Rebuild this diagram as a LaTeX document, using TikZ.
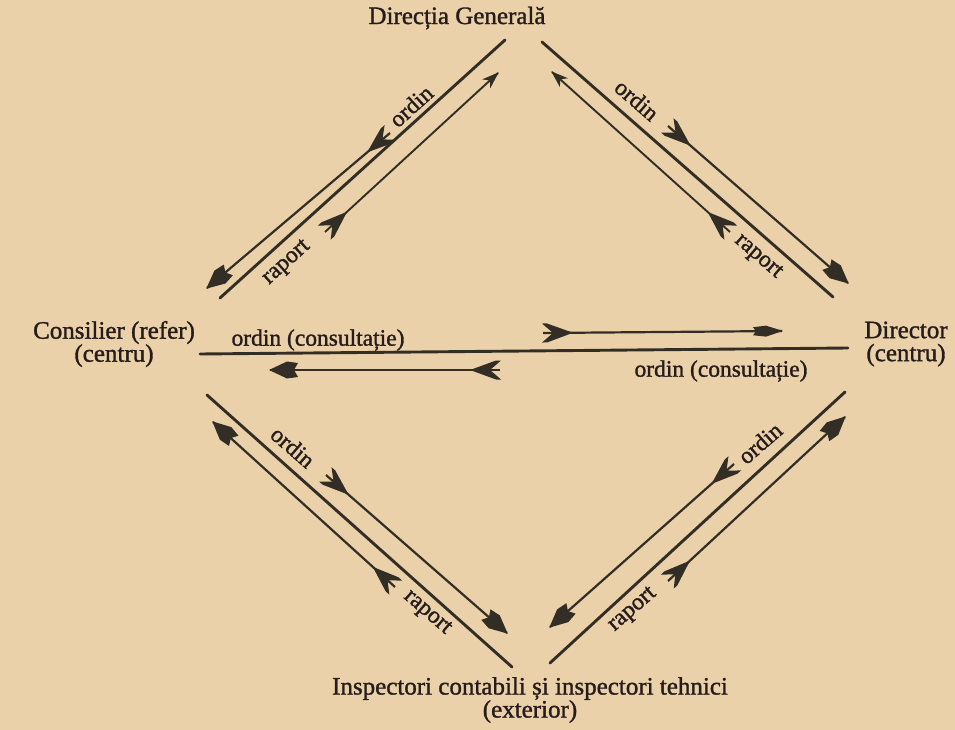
\documentclass[tikz,border=0pt]{standalone}
\usepackage{fontspec}
\setmainfont{Liberation Serif}[FakeBold=1.3]
\usetikzlibrary{decorations.markings}
\definecolor{paper}{RGB}{235,209,169}
\definecolor{ink}{RGB}{50,46,38}
\definecolor{txt}{RGB}{38,28,28}
\newcommand{\fletchshape}{\fill[ink] (30pt,0pt) -- (4pt,9.5pt) -- (-1pt,9.5pt) -- (10pt,0pt) -- (-1pt,-9.5pt) -- (4pt,-9.5pt) -- cycle;}
\newcommand{\headshape}{\fill[ink] (1pt,0pt) -- (-17pt,8.5pt) -- (-28pt,7pt) -- (-24pt,0pt) -- (-28pt,-7pt) -- (-17pt,-8.5pt) -- cycle;}
\newcommand{\slimheadshape}{\fill[ink] (1pt,0pt) -- (-16pt,5.5pt) -- (-29pt,4pt) -- (-26pt,0pt) -- (-29pt,-4pt) -- (-16pt,-5.5pt) -- cycle;}
\newcommand{\thinheadshape}{\fill[ink] (1pt,0pt) -- (-16pt,6pt) -- (-11pt,0pt) -- (-16pt,-6pt) -- cycle;}
\begin{document}
\begin{tikzpicture}[x=1pt,y=-1pt,
  lbl/.style={text=txt,inner sep=0pt,font=\fontsize{25}{23}\selectfont},
  linelbl/.style={text=txt,inner sep=0pt,font=\fontsize{23.5}{24}\selectfont},
  mainline/.style={draw=ink,line width=2.9pt,line cap=round},
  flow/.style={draw=ink,line width=2.2pt,postaction={decorate},
    decoration={markings,
      mark=at position 0 with {\fletchshape},
      mark=at position 1 with {\headshape}}},
  slimflow/.style={draw=ink,line width=2.2pt,postaction={decorate},
    decoration={markings,
      mark=at position 0 with {\fletchshape},
      mark=at position 1 with {\slimheadshape}}},
  thinflow/.style={draw=ink,line width=1.9pt,postaction={decorate},
    decoration={markings,
      mark=at position 0 with {\fletchshape},
      mark=at position 1 with {\thinheadshape}}}
]
\fill[paper] (0,0) rectangle (955,730);
\useasboundingbox (0,0) rectangle (955,730);

% texts
\node[lbl] (dg) at (457,18) {Direcția Generală};
\node[lbl,align=center] (cons) at (114,344) {Consilier (refer)\\(centru)};
\node[lbl,align=center] (dir) at (906,344) {Director\\(centru)};
\node[lbl,align=center] (insp) at (530,700) {Inspectori contabili și inspectori tehnici\\(exterior)};

% end points of the main lines
\coordinate (tlA) at (505,40);  \coordinate (tlB) at (220,298);
\coordinate (trA) at (542,42);  \coordinate (trB) at (833,297);
\coordinate (hA) at (200,354);  \coordinate (hB) at (848,348);
\coordinate (blA) at (207,395); \coordinate (blB) at (512,667);
\coordinate (brA) at (845,392); \coordinate (brB) at (550,663);

% end points of the arrows (tail, head)
\coordinate (tlo1) at (390,133); \coordinate (tlo2) at (207,288);
\coordinate (tlr1) at (325,232); \coordinate (tlr2) at (498,73);
\coordinate (tro1) at (668,126); \coordinate (tro2) at (848,283);
\coordinate (trr1) at (730,232); \coordinate (trr2) at (552,72);
\coordinate (ht1) at (543,333);  \coordinate (ht2) at (782,331);
\coordinate (hb1) at (500,370);  \coordinate (hb2) at (270,370);
\coordinate (blo1) at (326,475); \coordinate (blo2) at (507,633);
\coordinate (blr1) at (395,587); \coordinate (blr2) at (213,422);
\coordinate (bro1) at (734,464); \coordinate (bro2) at (550,627);
\coordinate (brr1) at (668,581); \coordinate (brr2) at (845,417);

% main lines
\draw[mainline] (tlA) -- (tlB);
\draw[mainline] (trA) -- (trB);
\draw[mainline] (hA) -- (hB);
\draw[mainline] (blA) -- (blB);
\draw[mainline] (brA) -- (brB);

% flows
\draw[flow] (tlo1) -- (tlo2);
\draw[thinflow] (tlr1) -- (tlr2);
\draw[flow] (tro1) -- (tro2);
\draw[thinflow] (trr1) -- (trr2);
\draw[slimflow] (ht1) -- (ht2);
\draw[flow] (hb1) -- (hb2);
\draw[flow] (blo1) -- (blo2);
\draw[flow] (blr1) -- (blr2);
\draw[flow] (bro1) -- (bro2);
\draw[flow] (brr1) -- (brr2);

% line labels
\node[linelbl,rotate=42] (l1) at (411,106) {ordin};
\node[linelbl,rotate=42] (l2) at (287,263) {raport};
\node[linelbl,rotate=-41] (l3) at (637,100) {ordin};
\node[linelbl,rotate=-41] (l4) at (758,257) {raport};
\node[linelbl] (l5) at (318,340) {ordin (consultație)};
\node[linelbl] (l6) at (721,371) {ordin (consultație)};
\node[linelbl,rotate=-41] (l7) at (293,447) {ordin};
\node[linelbl,rotate=-41] (l8) at (427,613) {raport};
\node[linelbl,rotate=41] (l9) at (760,443) {ordin};
\node[linelbl,rotate=41] (l10) at (633,610) {raport};
\end{tikzpicture}
\end{document}
